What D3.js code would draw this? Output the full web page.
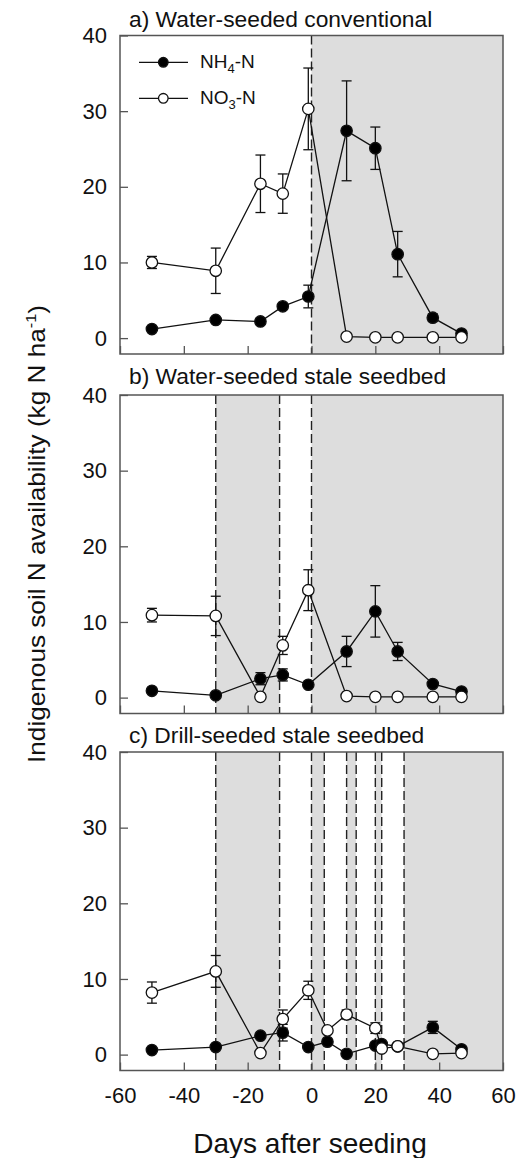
<!DOCTYPE html>
<html>
<head>
<meta charset="utf-8">
<script src="https://cdn.jsdelivr.net/npm/d3@7"></script>
<style>
  body { margin: 0; background: #fff; }
  text { font-family: "Liberation Sans", Arial, sans-serif; fill: #111; }
</style>
</head>
<body>
<div id="chart"></div>
<script>
// days after seeding for each sampling date
var daysAB = [-50, -30, -16, -9, -1, 11, 20, 27, 38, 47];
var daysC = [-50, -30, -16, -9, -1, 5, 11, 20, 22, 27, 38, 47];

// a) water-seeded conventional
var nh4A = [1.2, 2.4, 2.2, 4.2, 5.5, 27.4, 25.1, 11.1, 2.7, 0.6];
var nh4ErrA = [0, 0, 0.4, 0, 1.5, 6.6, 2.8, 3.0, 0.5, 0];
var no3A = [10.0, 8.9, 20.4, 19.1, 30.3, 0.2, 0.1, 0.1, 0.1, 0.1];
var no3ErrA = [0.8, 3.0, 3.8, 2.6, 5.4, 0, 0, 0, 0, 0];

// b) water-seeded stale seedbed
var nh4B = [0.9, 0.3, 2.5, 3.0, 1.7, 6.1, 11.4, 6.1, 1.8, 0.8];
var nh4ErrB = [0, 0, 0.8, 0.8, 0, 2.0, 3.4, 1.2, 0, 0];
var no3B = [10.9, 10.8, 0.1, 6.9, 14.2, 0.2, 0.1, 0.1, 0.1, 0.1];
var no3ErrB = [0.9, 2.6, 0, 1.2, 2.7, 0, 0, 0, 0, 0];

// c) drill-seeded stale seedbed
var nh4C = [0.6, 1.0, 2.5, 2.9, 1.0, 1.7, 0.1, 1.2, 1.4, 1.1, 3.6, 0.7];
var nh4ErrC = [0, 0, 0, 1.1, 0, 0, 0, 0, 0, 0, 0.8, 0];
var no3C = [8.2, 11.0, 0.2, 4.7, 8.5, 3.2, 5.3, 3.5, 0.8, 1.1, 0.1, 0.2];
var no3ErrC = [1.4, 2.1, 0, 1.2, 1.2, 0, 0.6, 0.7, 0, 0, 0, 0];

// flooded periods (shaded) and flood/drain events (dashed)
var floodA = [[0, 60]];
var floodB = [[-30, -10], [0, 60]];
var floodC = [[-30, -10], [0, 4], [11, 14], [20, 22], [29, 60]];
var eventsA = [0];
var eventsB = [-30, -10, 0];
var eventsC = [-30, -10, 0, 4, 11, 14, 20, 22, 29];

var panelTitles = ["a) Water-seeded conventional", "b) Water-seeded stale seedbed", "c) Drill-seeded stale seedbed"];
var xTicks = [-60, -40, -20, 0, 20, 40, 60];
var yTicks = [0, 10, 20, 30, 40];

var panels = [
  {title: panelTitles[0], days: daysAB, nh4: nh4A, nh4Err: nh4ErrA, no3: no3A, no3Err: no3ErrA, flood: floodA, events: eventsA, top: 35.5, titleY: 27},
  {title: panelTitles[1], days: daysAB, nh4: nh4B, nh4Err: nh4ErrB, no3: no3B, no3Err: no3ErrB, flood: floodB, events: eventsB, top: 395, titleY: 384},
  {title: panelTitles[2], days: daysC, nh4: nh4C, nh4Err: nh4ErrC, no3: no3C, no3Err: no3ErrC, flood: floodC, events: eventsC, top: 752, titleY: 743}
];

var width = 526, height = 1158;
var left = 120, right = 503, panelH = 318.5;

var svg = d3.select("#chart").append("svg")
  .attr("width", width)
  .attr("height", height);

var x = d3.scaleLinear().domain([-60, 60]).range([left, right]);
var plain = function(d) { return String(d); };

panels.forEach(function(p, i) {
  var y = d3.scaleLinear().domain([-2.1, 40]).range([p.top + panelH, p.top]);
  var g = svg.append("g");

  g.selectAll("rect.flood").data(p.flood).enter().append("rect")
    .attr("class", "flood")
    .attr("x", function(d) { return x(d[0]); })
    .attr("width", function(d) { return x(d[1]) - x(d[0]); })
    .attr("y", p.top)
    .attr("height", panelH)
    .attr("fill", "#dddddd");

  g.selectAll("line.event").data(p.events).enter().append("line")
    .attr("class", "event")
    .attr("x1", function(d) { return x(d); })
    .attr("x2", function(d) { return x(d); })
    .attr("y1", p.top)
    .attr("y2", p.top + panelH)
    .attr("stroke", "#222")
    .attr("stroke-width", 1.4)
    .attr("stroke-dasharray", "9,4");

  // axes, ticks pointing inward
  var xAxis = d3.axisBottom(x).tickValues(xTicks).tickSize(-8).tickPadding(17)
    .tickFormat(i < 2 ? "" : plain);
  var xg = g.append("g").attr("transform", "translate(0," + (p.top + panelH) + ")").call(xAxis);
  var yg = g.append("g").attr("transform", "translate(" + left + ",0)")
    .call(d3.axisLeft(y).tickValues(yTicks).tickSize(-8).tickPadding(13).tickFormat(plain));
  [xg, yg].forEach(function(a) {
    a.select(".domain").remove();
    a.selectAll(".tick line").attr("stroke", "#555").attr("stroke-width", 1.3);
    a.selectAll(".tick text").style("font-size", "22px").style("font-family", "'Liberation Sans', Arial, sans-serif").attr("fill", "#111");
  });

  g.append("rect")
    .attr("x", left).attr("y", p.top)
    .attr("width", right - left).attr("height", panelH)
    .attr("fill", "none").attr("stroke", "#555").attr("stroke-width", 1.5);

  g.append("text")
    .attr("x", 129).attr("y", p.titleY)
    .style("font-size", "22.8px")
    .text(p.title);

  var line = d3.line()
    .x(function(d) { return x(d[0]); })
    .y(function(d) { return y(d[1]); });

  var series = [
    {vals: p.nh4, err: p.nh4Err, fill: "#000"},
    {vals: p.no3, err: p.no3Err, fill: "#fff"}
  ];

  series.forEach(function(s) {
    var pts = p.days.map(function(d, k) { return [d, s.vals[k], s.err[k]]; });
    g.append("path").datum(pts)
      .attr("d", line)
      .attr("fill", "none").attr("stroke", "#111").attr("stroke-width", 1.3);
  });

  series.forEach(function(s) {
    var pts = p.days.map(function(d, k) { return [d, s.vals[k], s.err[k]]; });
    var eb = g.append("g").selectAll("g").data(pts.filter(function(d) { return d[2] > 0; })).enter().append("g")
      .attr("stroke", "#111").attr("stroke-width", 1.3);
    eb.append("line")
      .attr("x1", function(d) { return x(d[0]); }).attr("x2", function(d) { return x(d[0]); })
      .attr("y1", function(d) { return y(d[1] - d[2]); }).attr("y2", function(d) { return y(d[1] + d[2]); });
    eb.append("line")
      .attr("x1", function(d) { return x(d[0]) - 5; }).attr("x2", function(d) { return x(d[0]) + 5; })
      .attr("y1", function(d) { return y(d[1] + d[2]); }).attr("y2", function(d) { return y(d[1] + d[2]); });
    eb.append("line")
      .attr("x1", function(d) { return x(d[0]) - 5; }).attr("x2", function(d) { return x(d[0]) + 5; })
      .attr("y1", function(d) { return y(d[1] - d[2]); }).attr("y2", function(d) { return y(d[1] - d[2]); });
  });

  series.forEach(function(s) {
    var pts = p.days.map(function(d, k) { return [d, s.vals[k]]; });
    g.selectAll(null).data(pts).enter().append("circle")
      .attr("cx", function(d) { return x(d[0]); })
      .attr("cy", function(d) { return y(d[1]); })
      .attr("r", 5.7)
      .attr("fill", s.fill)
      .attr("stroke", "#111").attr("stroke-width", 1.3);
  });
});

// legend in panel a
var legendItems = [
  {main: "NH", sub: "4", rest: "-N", fill: "#000", y: 62.3},
  {main: "NO", sub: "3", rest: "-N", fill: "#fff", y: 98.3}
];
var leg = svg.append("g");
legendItems.forEach(function(d) {
  leg.append("line").attr("x1", 139).attr("x2", 188).attr("y1", d.y).attr("y2", d.y)
    .attr("stroke", "#111").attr("stroke-width", 1.3);
  leg.append("circle").attr("cx", 163.3).attr("cy", d.y).attr("r", 4.8)
    .attr("fill", d.fill).attr("stroke", "#111").attr("stroke-width", 1.3);
  var t = leg.append("text").attr("x", 200).attr("y", d.y + 5.5).style("font-size", "19px");
  t.append("tspan").text(d.main);
  t.append("tspan").attr("dy", 5).style("font-size", "13px").text(d.sub);
  t.append("tspan").attr("dy", -5).text(d.rest);
});

// axis titles
var yTitle = svg.append("text")
  .attr("transform", "translate(45,534) rotate(-90)")
  .attr("text-anchor", "middle")
  .style("font-size", "24px")
  .attr("textLength", 458)
  .attr("lengthAdjust", "spacingAndGlyphs");
yTitle.append("tspan").text("Indigenous soil N availability (kg N ha");
yTitle.append("tspan").attr("dy", -9).style("font-size", "15px").text("-1");
yTitle.append("tspan").attr("dy", 9).text(")");

svg.append("text")
  .attr("x", 310).attr("y", 1153)
  .attr("text-anchor", "middle")
  .style("font-size", "28px")
  .text("Days after seeding");
</script>
</body>
</html>
